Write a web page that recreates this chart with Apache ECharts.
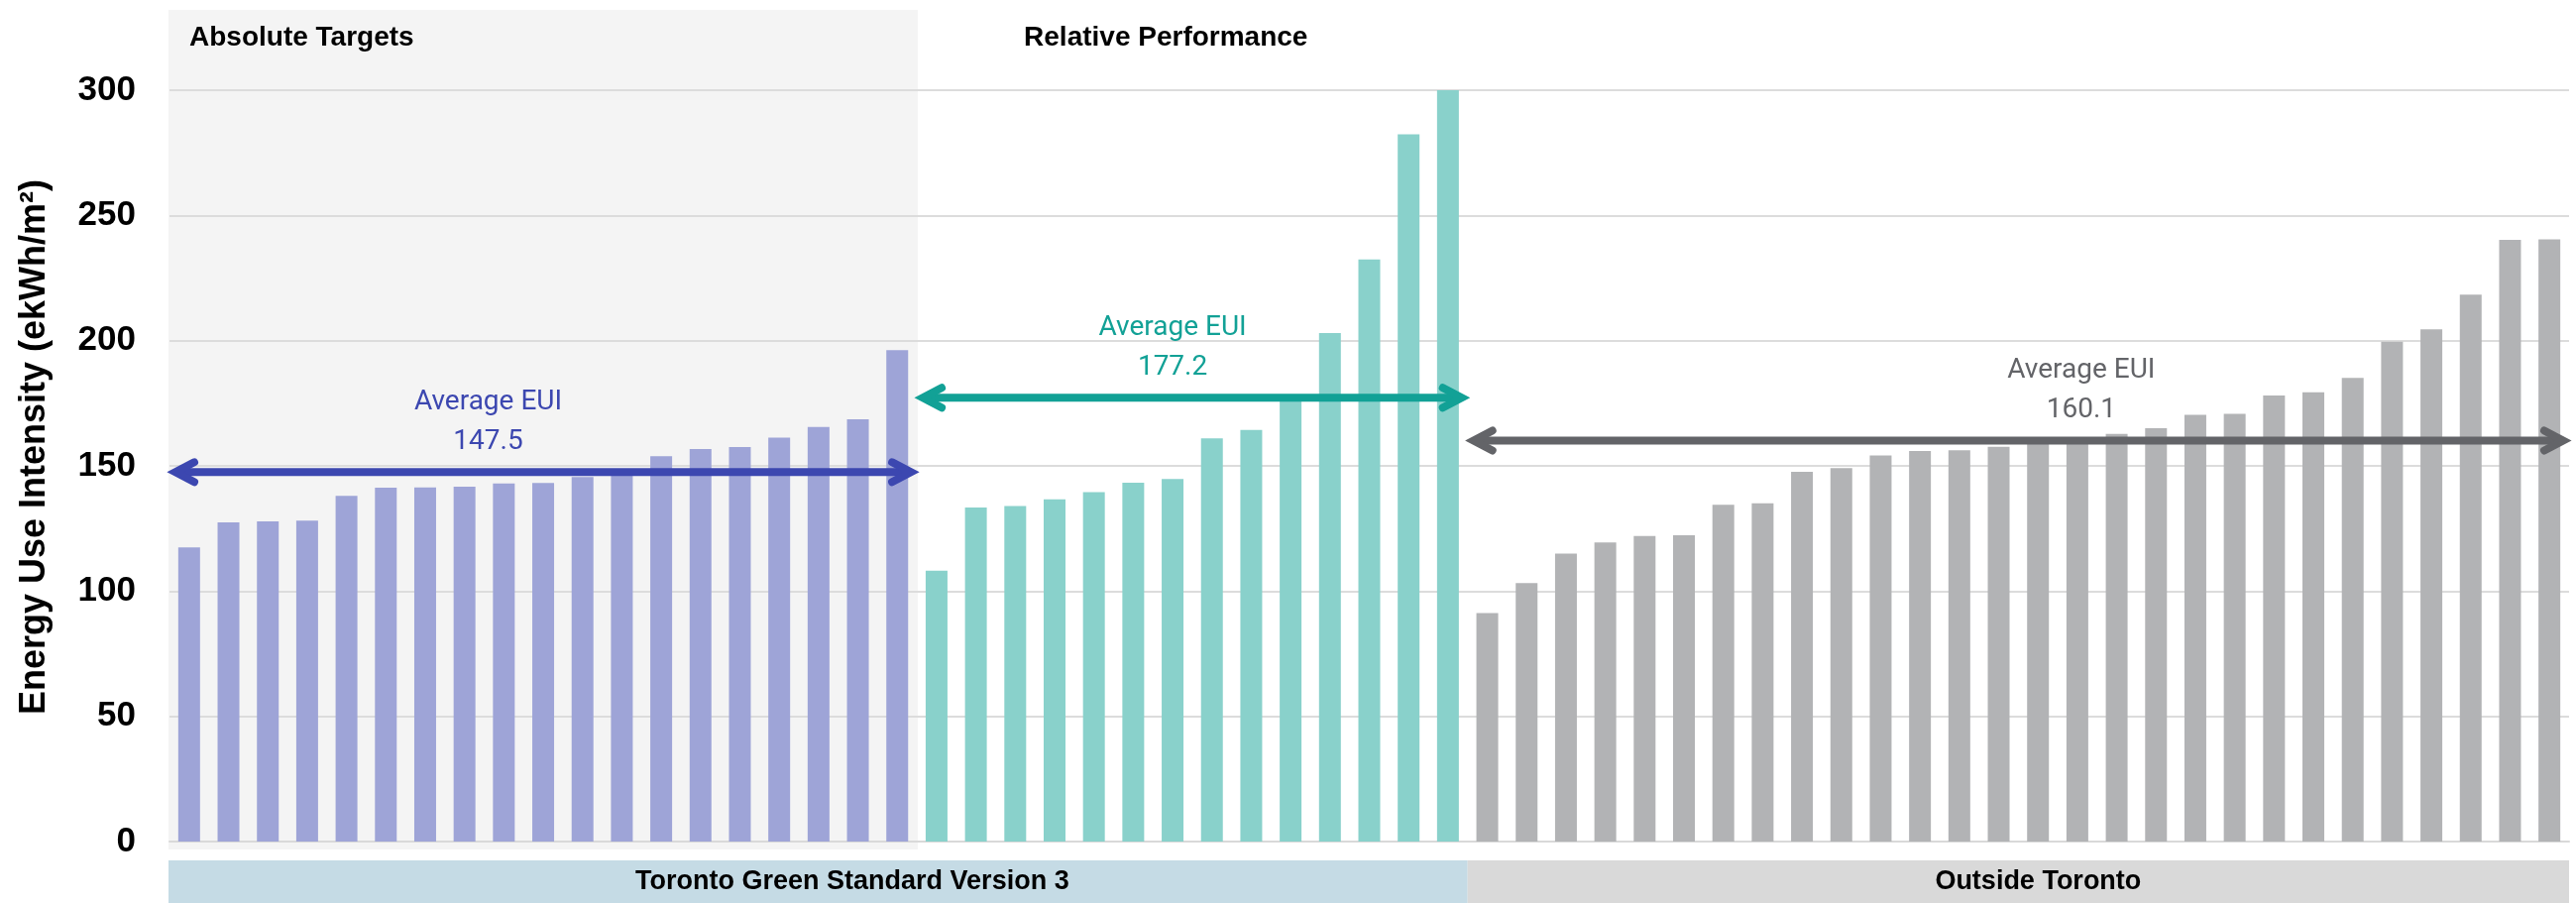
<!DOCTYPE html>
<html>
<head>
<meta charset="utf-8">
<script src="https://cdn.jsdelivr.net/npm/echarts@6/dist/echarts.min.js"></script>
<style>
  html, body { margin: 0; padding: 0; background: #ffffff; }
  #chart { width: 2599px; height: 911px; }
</style>
</head>
<body>
<div id="chart"></div>
<script>
// Energy use intensity of each building (ekWh/m²), sorted within its group
const absoluteTargets = [117.4, 127.4, 127.8, 128.1, 138.0, 141.3, 141.4, 141.7, 143.0, 143.2,
                         145.5, 146.5, 153.9, 156.7, 157.5, 161.3, 165.5, 168.6, 196.2];
const relativePerformance = [108.1, 133.4, 134.0, 136.6, 139.5, 143.3, 144.8, 161.0, 164.3, 176.5,
                             203.0, 232.4, 282.4, 300.0];
const outsideToronto = [91.2, 103.2, 115.0, 119.4, 122.0, 122.3, 134.5, 135.1, 147.6, 149.1,
                        154.2, 155.9, 156.2, 157.6, 160.5, 161.2, 162.8, 165.0, 170.4, 170.8,
                        178.1, 179.4, 185.1, 199.6, 204.5, 218.4, 240.2, 240.4];

// Group averages drawn as double-headed arrows
const averageEUI = [147.5, 177.2, 160.1];

// Value-axis ticks
const yTicks = [0, 50, 100, 150, 200, 250, 300];

// Text
const yTitle = 'Energy Use Intensity (ekWh/m²)';
const groupTitles = ['Absolute Targets', 'Relative Performance'];
const regionNames = ['Toronto Green Standard Version 3', 'Outside Toronto'];
const averageCaption = 'Average EUI';

// ---- styling ----
const barColors = ['#9ea4d7', '#89d1cb', '#b2b3b5'];
const arrowColors = ['#3c47b0', '#12a196', '#636468'];
const regionColors = ['#c5dbe5', '#d9d9d9'];
const boldFont = '"Liberation Sans", Arial, sans-serif';
// where each average caption sits along the category axis (in category units)
const captionAnchor = [8.1, 25.5, 48.6];

const groups = [absoluteTargets, relativePerformance, outsideToronto];
const starts = [];
let total = 0;
groups.forEach(g => { starts.push(total); total += g.length; });
const categories = Array.from({ length: total }, (_, i) => 'Building ' + (i + 1));

function paddedSeries(gi) {
  const arr = new Array(total).fill('-');
  groups[gi].forEach((v, i) => { arr[starts[gi] + i] = v; });
  return arr;
}

const arrowData = groups.map((g, gi) => [starts[gi], starts[gi] + g.length, averageEUI[gi]]);

const chart = echarts.init(document.getElementById('chart'), null, { renderer: 'canvas' });

const barSeries = groups.map((g, gi) => ({
  type: 'bar',
  stack: 'eui',
  xAxisIndex: 0,
  yAxisIndex: 0,
  barWidth: 22,
  data: paddedSeries(gi),
  itemStyle: { color: barColors[gi] },
  emphasis: { disabled: true },
  z: 2
}));

const arrowSeries = {
  type: 'custom',
  xAxisIndex: 1,
  yAxisIndex: 0,
  data: arrowData,
  encode: { x: [0, 1], y: 2 },
  clip: false,
  z: 5,
  renderItem(params, api) {
    const i = params.dataIndex;
    const c = arrowColors[i];
    const p0 = api.coord([api.value(0), api.value(2)]);
    const p1 = api.coord([api.value(1), api.value(2)]);
    const y = p0[1];
    const inset = 6, hl = 19, hw = 10;
    const a0 = p0[0] + inset, a1 = p1[0] - inset;
    const head = { stroke: c, lineWidth: 8, lineCap: 'round', lineJoin: 'miter', fill: null };
    const cx = api.coord([captionAnchor[i], api.value(2)])[0];
    return {
      type: 'group',
      children: [
        { type: 'line', shape: { x1: a0 + 4, y1: y, x2: a1 - 4, y2: y }, style: { stroke: c, lineWidth: 8 } },
        { type: 'polyline', shape: { points: [[a0 + hl, y - hw], [a0, y], [a0 + hl, y + hw]] }, style: head },
        { type: 'polyline', shape: { points: [[a1 - hl, y - hw], [a1, y], [a1 - hl, y + hw]] }, style: head },
        { type: 'text', x: cx, y: y - 70,
          style: { text: averageCaption, fill: c, font: '28px Roboto', align: 'center', verticalAlign: 'middle' } },
        { type: 'text', x: cx, y: y - 30,
          style: { text: api.value(2).toFixed(1), fill: c, font: '28px Roboto', align: 'center', verticalAlign: 'middle' } }
      ]
    };
  }
};

chart.setOption({
  animation: false,
  backgroundColor: '#ffffff',
  grid: { left: 171, right: 7, top: 91, bottom: 62, containLabel: false },
  xAxis: [
    {
      type: 'category',
      data: categories,
      boundaryGap: true,
      axisLine: { show: true, lineStyle: { color: '#d9d9d9', width: 2 } },
      axisTick: { show: false },
      axisLabel: { show: false },
      splitLine: { show: false }
    },
    { type: 'value', min: 0, max: total, show: false, splitLine: { show: false } }
  ],
  yAxis: {
    type: 'value',
    min: yTicks[0],
    max: yTicks[yTicks.length - 1],
    interval: yTicks[1] - yTicks[0],
    axisLine: { show: false },
    axisTick: { show: false },
    axisLabel: {
      margin: 34,
      color: '#000000',
      fontFamily: boldFont,
      fontWeight: 'bold',
      fontSize: 35
    },
    splitLine: { show: true, lineStyle: { color: '#dcdcdc', width: 2 } }
  },
  series: [...barSeries, arrowSeries]
});

// Background panels, headings and region band placed from the axis scale
const px = v => chart.convertToPixel({ xAxisIndex: 1 }, v);
const b0 = px(starts[0]), b1 = px(starts[1]), b2 = px(starts[2]), bEnd = px(total);

chart.setOption({
  graphic: [
    { type: 'rect', z: -10, silent: true,
      shape: { x: b0 - 1, y: 10, width: b1 - b0 + 2, height: 847 },
      style: { fill: '#f4f4f4' } },
    { type: 'text', z: 10, x: b0 + 20, y: 38,
      style: { text: groupTitles[0], fill: '#000000', font: 'bold 28px ' + boldFont, verticalAlign: 'middle' } },
    { type: 'text', z: 10, x: b1 + 108, y: 38,
      style: { text: groupTitles[1], fill: '#000000', font: 'bold 28px ' + boldFont, verticalAlign: 'middle' } },
    { type: 'text', z: 10, x: 35, y: 451, rotation: Math.PI / 2,
      style: { text: yTitle, fill: '#000000', font: 'bold 36px ' + boldFont, align: 'center', verticalAlign: 'middle' } },
    { type: 'rect', z: 1, silent: true,
      shape: { x: b0 - 1, y: 868, width: b2 - b0 + 1, height: 43 },
      style: { fill: regionColors[0] } },
    { type: 'rect', z: 1, silent: true,
      shape: { x: b2, y: 868, width: bEnd - b2, height: 43 },
      style: { fill: regionColors[1] } },
    { type: 'text', z: 10, x: (b0 + b2) / 2 + 34, y: 890,
      style: { text: regionNames[0], fill: '#000000', font: 'bold 27px ' + boldFont, align: 'center', verticalAlign: 'middle' } },
    { type: 'text', z: 10, x: (b2 + bEnd) / 2 + 20, y: 890,
      style: { text: regionNames[1], fill: '#000000', font: 'bold 27px ' + boldFont, align: 'center', verticalAlign: 'middle' } }
  ]
});
</script>
</body>
</html>
